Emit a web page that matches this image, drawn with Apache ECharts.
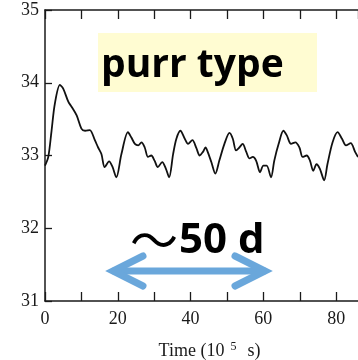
<!DOCTYPE html>
<html>
<head>
<meta charset="utf-8">
<script src="https://cdn.jsdelivr.net/npm/echarts@6/dist/echarts.min.js"></script>
<style>html,body{margin:0;padding:0;background:#fff}#c{width:358px;height:360px}</style>
</head>
<body>
<div id="c"></div>
<script>
// Time (10^5 s)
var times = [0,0.9,1.8,2.7,4.1,5.0,6.4,7.3,8.7,10.0,11.0,12.3,13.7,14.6,15.5,16.4,17.6,18.5,19.6,21.0,22.8,23.7,24.7,25.6,26.5,27.4,28.3,29.2,30.1,31.0,32.2,33.2,34.1,35.2,36.1,37.2,38.4,39.3,40.5,41.6,42.5,43.4,44.1,44.7,45.7,46.8,47.9,49.3,50.7,51.6,52.5,53.4,54.3,55.3,56.2,57.1,58.0,59.1,60.0,60.9,62.1,63.0,64.2,65.5,66.4,67.6,68.8,69.9,70.8,71.9,72.8,73.7,74.6,75.5,76.7,77.6,79.0,80.4,81.6,82.7,84.0,85.2,86];
var values = [32.86,32.98,33.34,33.71,33.97,33.92,33.74,33.67,33.55,33.37,33.34,33.35,33.21,33.11,33.02,32.84,32.92,32.85,32.70,33.02,33.32,33.25,33.16,33.14,33.18,33.11,32.98,33.0,32.93,32.84,32.91,32.82,32.70,33.02,33.23,33.34,33.23,33.16,33.21,33.10,33.0,33.05,33.11,33.05,32.91,32.75,32.93,33.16,33.31,33.23,33.07,33.11,33.16,33.05,32.96,32.98,32.93,32.77,32.86,32.86,32.70,32.93,33.16,33.34,33.28,33.16,33.18,33.11,32.98,33.0,32.93,32.79,32.88,32.82,32.66,32.88,33.18,33.32,33.23,33.14,33.17,33.05,32.98];
var xTicks = [0,20,40,60,80];
var yTicks = [31,32,33,34,35];
var labelText = 'purr type';
var periodTilde = '～';
var periodText = '50 d';

var pairs = times.map(function(t,i){return [t, values[i]];});
var chart = echarts.init(document.getElementById('c'));
var serif = '"Liberation Serif", "DejaVu Serif", serif';
var axisCol = '#1a1a1a';
chart.setOption({
  animation:false,
  grid:{left:45,right:0,top:10,bottom:59,containLabel:false,outerBoundsMode:'none'},
  xAxis:[{
    type:'value',min:0,max:86,interval:10,position:'bottom',
    axisLine:{show:true,lineStyle:{color:axisCol,width:1.5}},
    axisTick:{show:true,inside:true,length:9,lineStyle:{color:axisCol,width:1.3}},
    axisLabel:{margin:9,color:axisCol,fontFamily:serif,fontSize:18,
      formatter:function(v){return xTicks.indexOf(v)>=0?String(v):'';},showMaxLabel:false},
    splitLine:{show:false},
    name:'{a|Time (10}{s|5}{a|  s)}',nameLocation:'middle',nameGap:40,
    nameTextStyle:{padding:[0,0,0,16],rich:{a:{fontFamily:serif,fontSize:18,color:axisCol},s:{fontFamily:serif,fontSize:12,color:axisCol,verticalAlign:'top',padding:[0,2,8,6]}}}
  },{
    type:'value',min:0,max:86,interval:10,position:'top',
    axisLine:{show:true,lineStyle:{color:axisCol,width:1.5}},
    axisTick:{show:true,inside:true,length:9,lineStyle:{color:axisCol,width:1.3}},
    axisLabel:{show:false},splitLine:{show:false}
  }],
  yAxis:{
    type:'value',min:31,max:35,interval:1,
    axisLine:{show:true,lineStyle:{color:axisCol,width:1.5}},
    axisTick:{show:true,inside:true,length:7,lineStyle:{color:axisCol,width:1.3}},
    axisLabel:{margin:6,color:axisCol,fontFamily:serif,fontSize:18,
      formatter:function(v){return yTicks.indexOf(v)>=0?String(v):'';}},
    splitLine:{show:false}
  },
  series:[{
    type:'line',data:pairs,xAxisIndex:0,showSymbol:false,smooth:0.3,
    lineStyle:{color:'#111',width:1.8}
  }],
  graphic:[
    {type:'rect',left:98,top:33,shape:{width:219,height:59},style:{fill:'#FFFCD2'},z:1},
    {type:'text',left:101,top:46,style:{text:labelText,fill:'#000',font:'bold 39px "Open Sans", "Liberation Sans", sans-serif'},z:2},
    {type:'text',left:130,top:216,style:{text:periodTilde,fill:'#000',font:'48px "Noto Sans CJK SC", sans-serif'},z:2},
    {type:'text',left:179,top:220,style:{text:periodText,fill:'#000',font:'bold 42px "Open Sans", "Liberation Sans", sans-serif'},z:2},
    {type:'polyline',shape:{points:[[114,271],[264,271]]},style:{stroke:'#6AA7DB',lineWidth:7,lineCap:'round'},z:3},
    {type:'polyline',shape:{points:[[143,256],[113,271],[143,286]]},style:{stroke:'#6AA7DB',fill:null,lineWidth:7,lineCap:'round',lineJoin:'miter'},z:3},
    {type:'polyline',shape:{points:[[235,256],[265,271],[235,286]]},style:{stroke:'#6AA7DB',fill:null,lineWidth:7,lineCap:'round',lineJoin:'miter'},z:3}
  ]
});
</script>
</body>
</html>
